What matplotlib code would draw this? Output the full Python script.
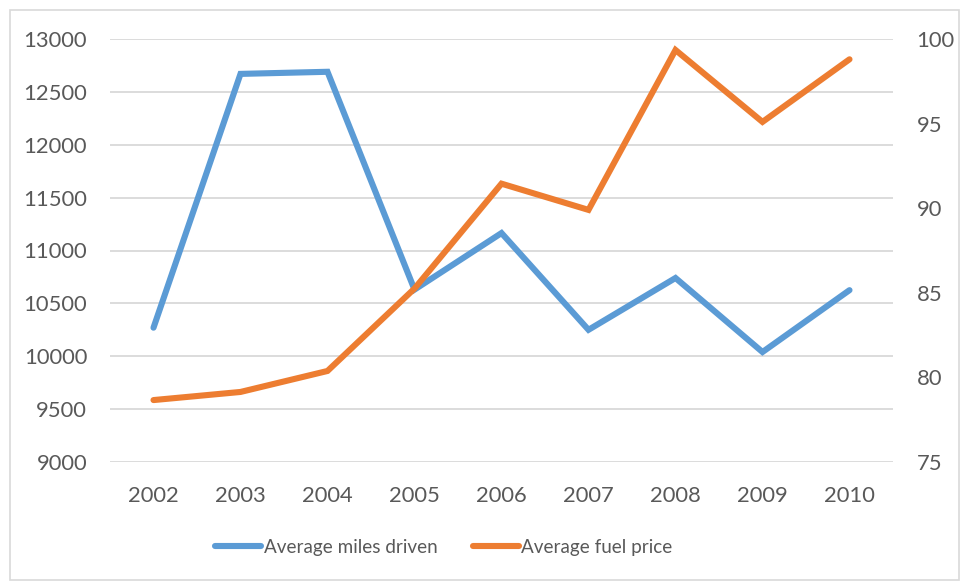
import matplotlib.pyplot as plt
from matplotlib.patches import Rectangle

# yearly averages
years = ['2002', '2003', '2004', '2005', '2006', '2007', '2008', '2009', '2010']
miles_driven = [10270, 12670, 12690, 10630, 11165, 10250, 10740, 10040, 10625]
fuel_price = [78.66, 79.14, 80.38, 85.25, 91.45, 89.9, 99.35, 95.1, 98.8]

plt.rcParams['font.family'] = ['Lato', 'DejaVu Sans']
text_color = '#595959'
grid_color = '#D9D9D9'
blue = '#5B9BD5'
orange = '#ED7D31'

fig = plt.figure(figsize=(9.61, 5.82), dpi=100)
W, H = 961, 582
ax = fig.add_axes([110 / W, 1 - 462 / H, (893 - 110) / W, (462 - 39) / H])

# light frame around the whole chart
fig.patches.append(Rectangle((10 / W, 2 / H), 949 / W, 570 / H, transform=fig.transFigure,
                             fill=False, edgecolor='#D9D9D9', linewidth=1.2))

x = range(len(years))
l1, = ax.plot(x, miles_driven, color=blue, linewidth=4.4, solid_capstyle='round',
              solid_joinstyle='miter', label='Average miles driven', zorder=3)
ax.set_ylim(9000, 13000)
ax.set_yticks(range(9000, 13001, 500))
ax.set_xlim(-0.5, len(years) - 0.5)
ax.set_xticks(list(x))
ax.set_xticklabels(years)
ax.grid(axis='y', color=grid_color, linewidth=1.3)
ax.set_axisbelow(True)

ax2 = ax.twinx()
l2, = ax2.plot(x, fuel_price, color=orange, linewidth=4.4, solid_capstyle='round',
               solid_joinstyle='miter', label='Average fuel price', zorder=3)
ax2.set_ylim(75, 100)
ax2.set_yticks(range(75, 101, 5))

for a in (ax, ax2):
    for s in a.spines.values():
        s.set_visible(False)
    a.tick_params(length=0, labelsize=15.8, labelcolor=text_color)
ax.tick_params(axis='y', pad=16.5)
ax.tick_params(axis='x', pad=17)
ax2.tick_params(axis='y', pad=17)

fig.legend(handles=[l1, l2], loc='center', bbox_to_anchor=(444 / W, 1 - 547 / H), ncol=2,
           frameon=False, fontsize=13.6, labelcolor=text_color, handlelength=2.4,
           handletextpad=0.15, columnspacing=1.9)

fig.savefig('out.png', dpi=100)
